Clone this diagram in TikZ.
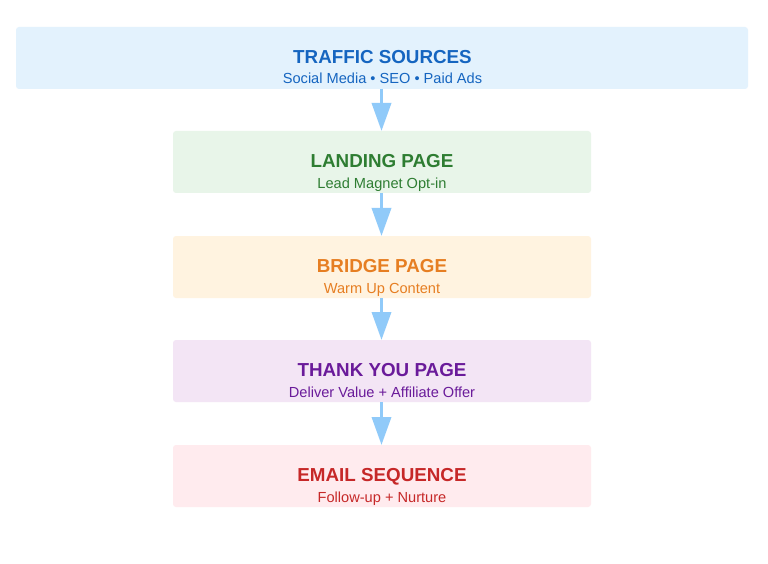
\documentclass[tikz,border=0pt]{standalone}
\usepackage{fontspec}
\setmainfont{Liberation Sans}
\usetikzlibrary{arrows.meta}
\definecolor{bluefill}{HTML}{E3F2FD}\definecolor{bluetext}{HTML}{1565C0}
\definecolor{greenfill}{HTML}{E8F5E9}\definecolor{greentext}{HTML}{2E7D32}
\definecolor{orangefill}{HTML}{FFF3E0}\definecolor{orangetext}{HTML}{E67E22}
\definecolor{purplefill}{HTML}{F3E5F5}\definecolor{purpletext}{HTML}{6A1B9A}
\definecolor{redfill}{HTML}{FFEBEE}\definecolor{redtext}{HTML}{C62828}
\definecolor{arrowblue}{HTML}{90CAF9}
\tikzset{
  stage/.style={rounded corners=3pt, draw=none, fill=#1},
  ttl/.style={font=\fontsize{18.8}{20}\selectfont\bfseries, text=#1, inner sep=0pt, anchor=base},
  sub/.style={font=\fontsize{14.6}{16}\selectfont, text=#1, inner sep=0pt, anchor=base},
  flow/.style={draw=arrowblue, line width=3.5pt, -{Triangle[width=19pt,length=28pt]}}
}
\begin{document}
\begin{tikzpicture}[x=1pt,y=-1pt]
\useasboundingbox (0,0) rectangle (768,564);
\fill[white] (0,0) rectangle (768,564);
% boxes
\path[stage=bluefill] (16,27) rectangle (748,89);
\coordinate (b1bot) at (381.5,89);
\path[stage=greenfill] (173,131) rectangle (591,193);
\coordinate (b2top) at (381.5,131); \coordinate (b2bot) at (381.5,193);
\path[stage=orangefill] (173,236) rectangle (591,298);
\coordinate (b3top) at (381.5,236); \coordinate (b3bot) at (381.5,298);
\path[stage=purplefill] (173,340) rectangle (591,402);
\coordinate (b4top) at (381.5,340); \coordinate (b4bot) at (381.5,402);
\path[stage=redfill] (173,445) rectangle (591,507);
\coordinate (b5top) at (381.5,445);
% texts
\node[ttl=bluetext] (t1) at (382.5,63.5) {TRAFFIC SOURCES};
\node[sub=bluetext] (s1) at (382.5,84) {Social Media • SEO • Paid Ads};
\node[ttl=greentext] (t2) at (382,167.5) {LANDING PAGE};
\node[sub=greentext] (s2) at (382,189) {Lead Magnet Opt-in};
\node[ttl=orangetext] (t3) at (382,272) {BRIDGE PAGE};
\node[sub=orangetext] (s3) at (382,293) {Warm Up Content};
\node[ttl=purpletext] (t4) at (382,376) {THANK YOU PAGE};
\node[sub=purpletext] (s4) at (382,397) {Deliver Value + Affiliate Offer};
\node[ttl=redtext] (t5) at (382,481) {EMAIL SEQUENCE};
\node[sub=redtext] (s5) at (382,502) {Follow-up + Nurture};
% arrows
\draw[flow] (b1bot) -- (b2top);
\draw[flow] (b2bot) -- (b3top);
\draw[flow] (b3bot) -- (b4top);
\draw[flow] (b4bot) -- (b5top);
\end{tikzpicture}
\end{document}
